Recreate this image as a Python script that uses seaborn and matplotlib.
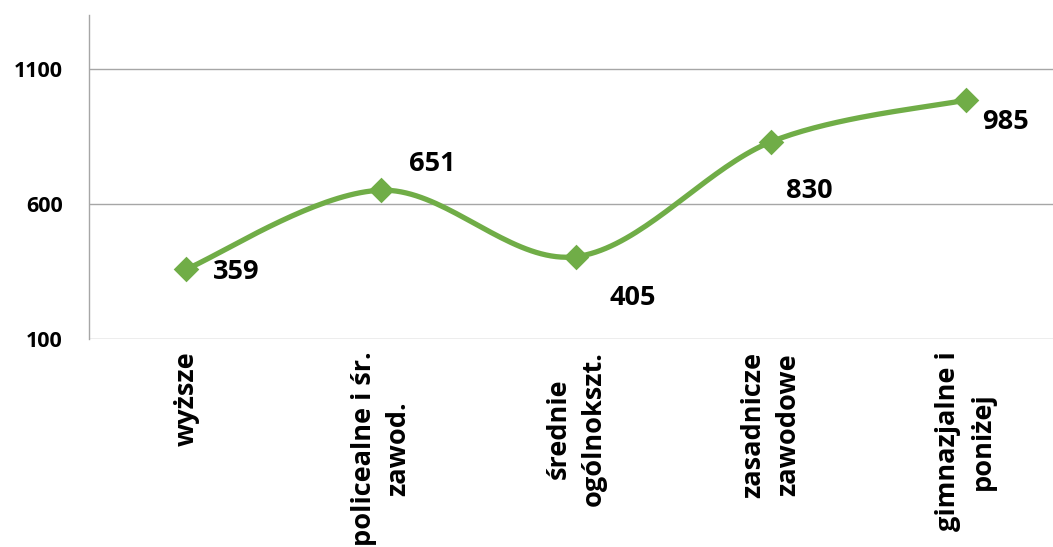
import numpy as np
import pandas as pd
import seaborn as sns
import matplotlib.pyplot as plt

# education level vs count
categories = ["wyższe", "policealne i śr.\nzawod.", "średnie\nogólnokszt.",
              "zasadnicze\nzawodowe", "gimnazjalne i\nponiżej"]
values = [359, 651, 405, 830, 985]
y_ticks = [100, 600, 1100]

# where each value label sits relative to its point (points)
label_offsets = [(19, -2), (20, 19), (24, -30), (11, -35), (12, -16)]

green = "#70AD47"
grid_col = "#A6A6A6"

sns.set_theme(style="white")
plt.rcParams["font.family"] = ["Open Sans", "DejaVu Sans"]


def smooth(xs, ys, n=40):
    # excel-like smoothed line (catmull-rom as bezier)
    p = np.column_stack([xs, ys]).astype(float)
    p = np.vstack([p[0], p, p[-1]])
    out = []
    for i in range(1, len(p) - 2):
        p0, p1, p2, p3 = p[i - 1], p[i], p[i + 1], p[i + 2]
        b1 = p1 + (p2 - p0) / 6
        b2 = p2 - (p3 - p1) / 6
        t = np.linspace(0, 1, n)[:, None]
        seg = ((1 - t) ** 3) * p1 + 3 * ((1 - t) ** 2) * t * b1 + 3 * (1 - t) * t ** 2 * b2 + t ** 3 * p2
        out.append(seg if i == 1 else seg[1:])
    return np.vstack(out)


df = pd.DataFrame({"x": np.arange(len(values)), "value": values})
curve = smooth(df["x"], df["value"])
curve_df = pd.DataFrame(curve, columns=["x", "value"])

fig = plt.figure(figsize=(10.53, 5.47), dpi=100)
ax = fig.add_axes([89 / 1053, 1 - 339 / 547, (1063 - 89) / 1053, (339 - 15) / 547])

sns.lineplot(data=curve_df, x="x", y="value", sort=False, color=green, lw=3.8, ax=ax)
sns.scatterplot(data=df, x="x", y="value", marker="D", s=170, color=green,
                edgecolor=green, linewidth=0, ax=ax, zorder=3)

for (xv, yv), (dx, dy) in zip(df[["x", "value"]].values, label_offsets):
    ax.annotate(str(yv), (xv, yv), xytext=(dx, dy), textcoords="offset points",
                ha="left", va="center", fontsize=19.5, fontweight="bold", color="black")

ax.set_xlim(-0.5, len(values) - 0.5)
ax.set_ylim(100, 1300)
ax.set_yticks(y_ticks)
ax.set_yticklabels([str(v) for v in y_ticks], fontsize=15.5, fontweight="bold", color="black")
ax.set_xticks(df["x"])
ax.set_xticklabels(categories, rotation=90, fontsize=19.5, fontweight="bold",
                   color="black", va="top", ha="center", multialignment="center",
                   linespacing=1.45)
ax.tick_params(axis="x", length=0, pad=9)
ax.tick_params(axis="y", length=0, pad=19)
ax.set_xlabel("")
ax.set_ylabel("")

ax.grid(axis="y", color=grid_col, lw=1)
for s in ["top", "right", "bottom"]:
    ax.spines[s].set_visible(False)
ax.spines["left"].set_color(grid_col)
ax.spines["left"].set_linewidth(1)

fig.savefig("out.png", dpi=100)
